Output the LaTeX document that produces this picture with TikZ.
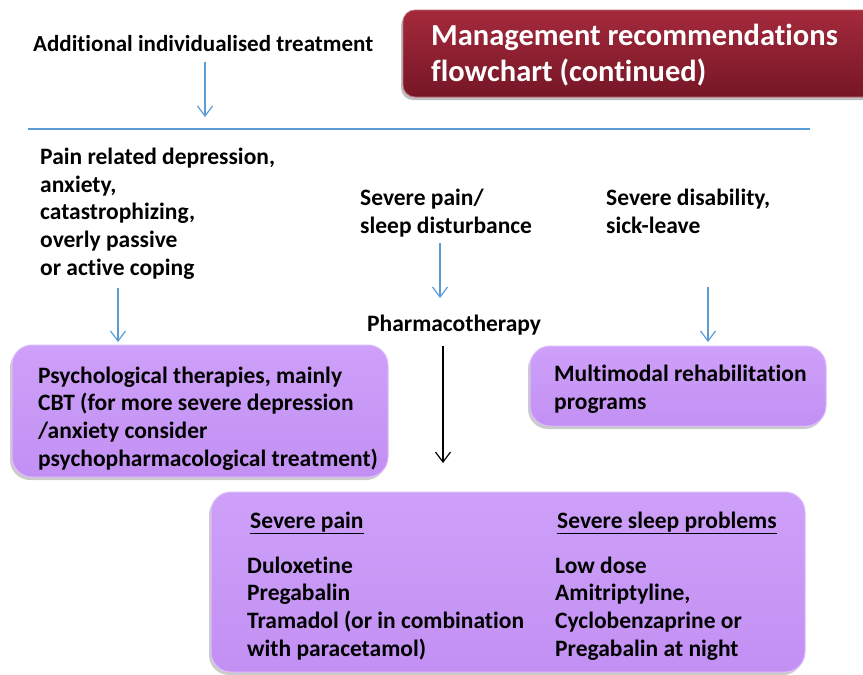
\documentclass[tikz,border=0pt]{standalone}
\usepackage{fontspec}
\setmainfont{Carlito}[Ligatures=NoCommon]
\usetikzlibrary{arrows.meta,shadows}
\definecolor{arrowblue}{RGB}{91,155,213}
\definecolor{boxtop}{RGB}{206,160,249}
\definecolor{boxbot}{RGB}{194,144,243}
\definecolor{boxedge}{RGB}{220,188,252}
\definecolor{titletop}{RGB}{164,42,60}
\definecolor{titlebot}{RGB}{118,22,38}
\tikzset{
  lbl/.style={anchor=base west, inner sep=0pt, align=left, font=\fontsize{23.5}{27.6}\selectfont\bfseries},
  barrow/.style={draw=arrowblue, line width=1.2pt, -{Straight Barb[length=10pt,width=15pt,line width=1.2pt]}},
  karrow/.style={draw=black, line width=1.2pt, -{Straight Barb[length=10pt,width=15pt,line width=1.2pt]}},
  purplebox/.style={draw=boxedge, line width=1pt, rounded corners=20pt, top color=boxtop, bottom color=boxbot,
     drop shadow={shadow xshift=-2pt, shadow yshift=-3pt, fill=black!45, opacity=0.45}},
  titlebox/.style={draw=titletop!70!white, line width=0.8pt, rounded corners=12pt, top color=titletop, bottom color=titlebot,
     drop shadow={shadow xshift=-2pt, shadow yshift=-3pt, fill=black!50, opacity=0.5}},
}
\begin{document}
\begin{tikzpicture}[x=1pt,y=-1pt]
\useasboundingbox (0,0) rectangle (863,675);

% title (anchor = baseline of last line)
\path[titlebox] (403,10) rectangle (880,97);
\node[lbl, text=white, font=\fontsize{30.5}{36}\selectfont\bfseries] (title) at (431,81) {Management recommendations\\flowchart (continued)};

% top text and line
\node[lbl, font=\fontsize{23}{27}\selectfont\bfseries] (add) at (33,51) {Additional individualised treatment};
\coordinate (a1s) at (205,62);
\coordinate (a1e) at (205,117);
\draw[barrow] (a1s) -- (a1e);
\coordinate (hl) at (28,129);
\coordinate (hr) at (810,129);
\draw[arrowblue, line width=1.2pt] (hl) -- (hr);

% left column
\node[lbl] (pain) at (40,275) {Pain related depression,\\anxiety,\\catastrophizing,\\overly passive\\or active coping};
\coordinate (a2s) at (118,288);
\coordinate (a2e) at (118,342);
\draw[barrow] (a2s) -- (a2e);
\path[purplebox] (12,345) rectangle (388,477);
\node[lbl] (psy) at (38,466) {Psychological therapies, mainly\\CBT (for more severe depression\\/anxiety consider\\psychopharmacological treatment)};

% middle column
\node[lbl] (sev) at (360,233) {Severe pain/\\sleep disturbance};
\coordinate (a3s) at (440,243);
\coordinate (a3e) at (440,298);
\draw[barrow] (a3s) -- (a3e);
\node[lbl] (pharm) at (367,331) {Pharmacotherapy};
\coordinate (a4s) at (443,346);
\coordinate (a4e) at (443,463);
\draw[karrow] (a4s) -- (a4e);

% right column
\node[lbl] (dis) at (606,233) {Severe disability,\\sick-leave};
\coordinate (a5s) at (708,287);
\coordinate (a5e) at (708,342);
\draw[barrow] (a5s) -- (a5e);
\path[purplebox] (530,346) rectangle (826,426);
\node[lbl] (multi) at (554,409) {Multimodal rehabilitation\\programs};

% bottom box
\path[purplebox] (211,492) rectangle (805,672);
\node[lbl] (hpain) at (250,528) {\underline{Severe pain}};
\node[lbl] (hsleep) at (557,528) {\underline{Severe sleep problems}};
\node[lbl] (lpain) at (247,656) {Duloxetine\\Pregabalin\\Tramadol (or in combination\\with paracetamol)};
\node[lbl] (lsleep) at (555,656) {Low dose\\Amitriptyline,\\Cyclobenzaprine or\\Pregabalin at night};
\end{tikzpicture}
\end{document}
